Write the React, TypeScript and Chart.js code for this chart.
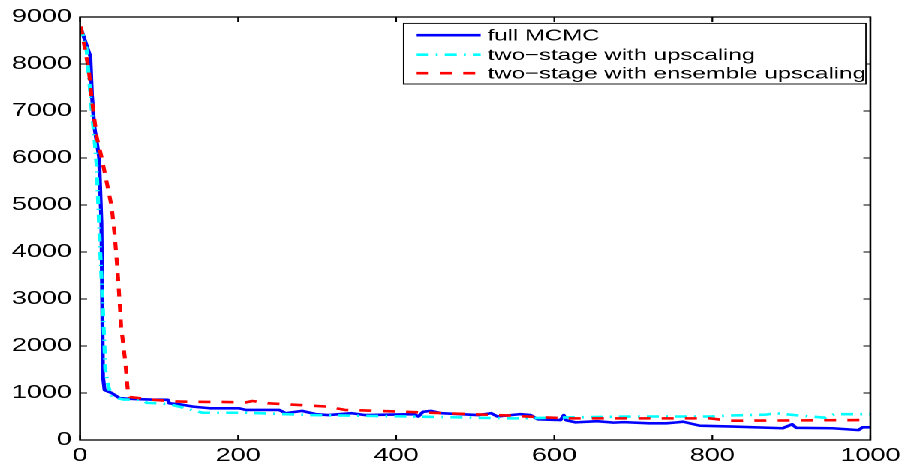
import React, { useEffect, useRef } from "react";
import { Chart, registerables } from "chart.js";

Chart.register(...registerables);

// ---- data (iteration, value) ----
const fullIter = [1, 13, 15, 18, 24, 27, 29, 31, 40, 50, 70, 90, 111, 113, 126, 143, 164, 201, 210, 252, 260, 281, 298, 314, 344, 361, 423, 428, 434, 444, 457, 503, 520, 528, 557, 570, 579, 608, 612, 615, 627, 654, 675, 688, 720, 742, 755, 763, 784, 826, 889, 901, 906, 952, 985, 990, 1000];
const fullVals = [8760, 8160, 7340, 6670, 6030, 4620, 1350, 1064, 1000, 890, 870, 860, 855, 780, 760, 710, 675, 675, 640, 640, 570, 620, 550, 530, 570, 530, 550, 500, 600, 620, 570, 530, 570, 500, 550, 530, 440, 425, 530, 420, 375, 400, 370, 380, 355, 355, 375, 390, 305, 285, 250, 335, 260, 250, 210, 270, 270];

const upIter = [1, 8, 15, 18, 21, 25, 29, 32, 36, 40, 55, 75, 85, 100, 113, 130, 155, 168, 210, 293, 419, 545, 553, 616, 700, 797, 820, 868, 880, 910, 943, 955, 1000];
const upVals = [8760, 8340, 6960, 6450, 5820, 4190, 2770, 1490, 1130, 920, 860, 860, 790, 780, 760, 690, 580, 580, 580, 530, 500, 460, 460, 480, 500, 500, 520, 540, 570, 520, 475, 550, 550];

const ensIter = [1, 11, 15, 21, 27, 34, 40, 44, 48, 52, 57, 60, 61, 63, 90, 120, 160, 178, 210, 218, 239, 293, 314, 335, 377, 461, 545, 553, 616, 797, 822, 1000];
const ensVals = [8800, 7870, 7230, 6450, 6030, 5460, 4960, 4330, 3470, 2410, 1700, 1130, 960, 915, 860, 820, 810, 810, 800, 830, 780, 730, 710, 640, 620, 570, 520, 510, 460, 460, 410, 425];

const seriesLabels = ["full MCMC", "two\u2212stage with upscaling", "two\u2212stage with ensemble upscaling"];
const seriesColors = ["#0000ff", "#00ffff", "#ff0000"];

const xTickStep = 200;
const yTickStep = 1000;
const xMax = 1000;
const yMax = 9000;

// ---- layout (canvas is drawn narrow and stretched horizontally) ----
const W = 605;
const H = 466;
const STRETCH = 908 / W;
const FONT = "'Liberation Sans', Arial, Helvetica, sans-serif";

const dashes: number[][] = [[], [8, 4.7, 1.3, 4.7], [8, 7.5]];

function toPts(xs: number[], ys: number[]) {
  return xs.map((x, i) => ({ x, y: ys[i] }));
}

const framePlugin = {
  id: "frame",
  afterDatasetsDraw(chart: any) {
    const { ctx, chartArea: a, scales } = chart;
    ctx.save();
    ctx.strokeStyle = "#000";
    ctx.lineWidth = 1.3;
    ctx.strokeRect(a.left, a.top, a.right - a.left, a.bottom - a.top);
    ctx.lineWidth = 1.1;
    const xs = scales.x;
    const ys = scales.y;
    ctx.beginPath();
    for (let v = 0; v <= xMax; v += xTickStep) {
      const px = xs.getPixelForValue(v);
      ctx.moveTo(px, a.bottom);
      ctx.lineTo(px, a.bottom - 5);
      ctx.moveTo(px, a.top);
      ctx.lineTo(px, a.top + 5);
    }
    for (let v = 0; v <= yMax; v += yTickStep) {
      const py = ys.getPixelForValue(v);
      ctx.moveTo(a.left, py);
      ctx.lineTo(a.left + 4.7, py);
      ctx.moveTo(a.right, py);
      ctx.lineTo(a.right - 4.7, py);
    }
    ctx.stroke();

    // legend
    const bx0 = 403.6 / STRETCH;
    const bx1 = 866 / STRETCH;
    const by0 = 23.4;
    const by1 = 84;
    ctx.fillStyle = "#fff";
    ctx.fillRect(bx0, by0, bx1 - bx0, by1 - by0);
    ctx.lineWidth = 0.9;
    ctx.strokeStyle = "#000";
    ctx.strokeRect(bx0, by0, bx1 - bx0, by1 - by0);
    const rows = [35.2, 54.7, 73.2];
    const lx0 = 416.7 / STRETCH;
    const lx1 = 480.7 / STRETCH;
    const tx = 487.5 / STRETCH;
    ctx.font = `16px ${FONT}`;
    ctx.textBaseline = "middle";
    ctx.textAlign = "left";
    chart.data.datasets.forEach((ds: any, i: number) => {
      const y = rows[i];
      ctx.save();
      ctx.strokeStyle = ds.borderColor;
      ctx.lineWidth = 2.6;
      ctx.setLineDash(dashes[i]);
      ctx.beginPath();
      ctx.moveTo(lx0, y);
      ctx.lineTo(lx1, y);
      ctx.stroke();
      ctx.restore();
      ctx.fillStyle = "#000";
      ctx.fillText(ds.label, tx, y + 1);
    });
    ctx.restore();
  },
};

export default function App() {
  const ref = useRef<HTMLCanvasElement>(null);
  useEffect(() => {
    if (!ref.current) return;
    const chart = new Chart(ref.current, {
      type: "line",
      data: {
        datasets: [
          { label: seriesLabels[0], data: toPts(fullIter, fullVals), borderColor: seriesColors[0], borderWidth: 2.6, order: 3 },
          { label: seriesLabels[1], data: toPts(upIter, upVals), borderColor: seriesColors[1], borderWidth: 2.6, borderDash: dashes[1], order: 2 },
          { label: seriesLabels[2], data: toPts(ensIter, ensVals), borderColor: seriesColors[2], borderWidth: 2.6, borderDash: dashes[2], order: 1 },
        ],
      },
      options: {
        animation: false,
        responsive: false,
        devicePixelRatio: 2,
        events: [],
        layout: { padding: { top: 17, right: W - 874 / STRETCH, left: 0, bottom: 0 } },
        elements: {
          point: { radius: 0 },
          line: { tension: 0, fill: false, borderJoinStyle: "round", borderCapStyle: "butt" },
        },
        plugins: { legend: { display: false }, tooltip: { enabled: false } },
        scales: {
          x: {
            type: "linear",
            min: 0,
            max: xMax,
            border: { display: false },
            grid: { display: false, drawTicks: false, tickLength: 0 },
            ticks: { stepSize: xTickStep, color: "#000", font: { family: FONT, size: 18 }, padding: 5, maxRotation: 0, callback: (v: any) => String(v) },
            afterFit: (s: any) => { s.height = 26; },
          },
          y: {
            type: "linear",
            min: 0,
            max: yMax,
            border: { display: false },
            grid: { display: false, drawTicks: false, tickLength: 0 },
            ticks: { stepSize: yTickStep, color: "#000", font: { family: FONT, size: 18 }, padding: 5.5, callback: (v: any) => String(v) },
            afterFit: (s: any) => { s.width = 80 / STRETCH; },
          },
        },
      },
      plugins: [framePlugin],
    } as any);
    return () => chart.destroy();
  }, []);
  return (
    <div style={{ position: "fixed", left: 0, top: 0, width: W, height: H, transform: `scaleX(${STRETCH})`, transformOrigin: "0 0", background: "#fff" }}>
      <canvas ref={ref} width={W} height={H} />
    </div>
  );
}
